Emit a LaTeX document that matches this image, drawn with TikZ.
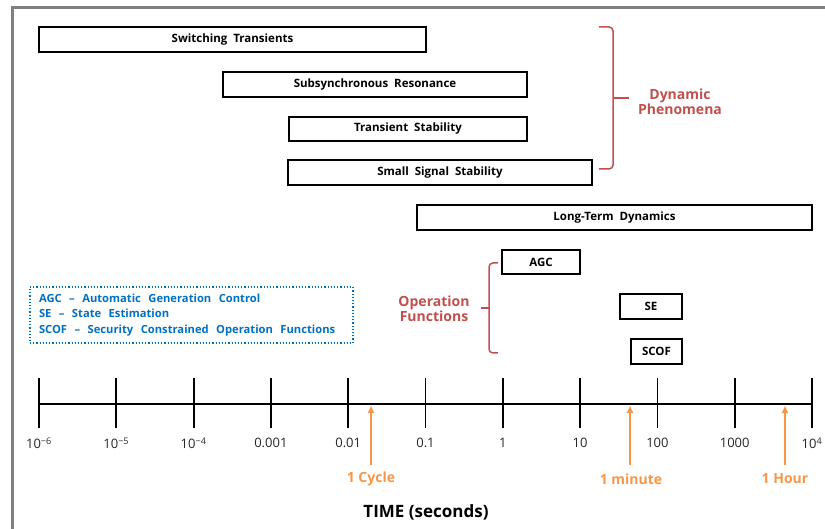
\documentclass[tikz,border=0pt]{standalone}
\usepackage{fontspec}
\setmainfont{Open Sans}
\usetikzlibrary{arrows.meta}
\definecolor{framegray}{RGB}{128,128,128}
\definecolor{dynred}{RGB}{192,80,77}
\definecolor{tickorange}{RGB}{247,150,70}
\definecolor{legblue}{RGB}{0,112,192}
\tikzset{
  bar/.style={draw=black, line width=1.5pt, fill=white, inner sep=0pt,
    font=\fontsize{11.5}{13}\selectfont\bfseries},
  bracepath/.style={draw=dynred, line width=1.5pt, rounded corners=4pt},
  redlabel/.style={text=dynred, font=\fontsize{14}{17}\selectfont\bfseries, align=center},
  ticklabel/.style={font=\fontsize{13}{15}\selectfont, text=black!85},
  orangelabel/.style={text=tickorange, font=\fontsize{14}{16}\selectfont\bfseries},
  markarrow/.style={draw=tickorange, line width=1.8pt, -{Triangle[length=7pt,width=6pt]}},
  axisline/.style={draw=black, line width=1.8pt},
}
\begin{document}
\begin{tikzpicture}[x=1pt,y=-1pt]
\useasboundingbox (0,0) rectangle (825,529);
% frame
\draw[framegray, line width=3pt] (12,529) -- (12,8) -- (825,8);

% bars
\node[bar, minimum width=387pt, minimum height=25pt] (sw) at (232.5,39.5) {Switching\ \ Transients};
\node[bar, minimum width=304pt, minimum height=25pt] (ssr) at (375,84.5) {Subsynchronous\ \ Resonance};
\node[bar, minimum width=238pt, minimum height=24pt] (ts) at (408,129) {Transient\ \ Stability};
\node[bar, minimum width=304pt, minimum height=25pt] (sss) at (440,172.5) {Small\ \ Signal\ \ Stability};
\node[bar, minimum width=395pt, minimum height=25pt] (ltd) at (614.5,217.5) {Long-Term\ \ Dynamics};
\node[bar, minimum width=78pt, minimum height=24pt] (agc) at (541,262) {AGC};
\node[bar, minimum width=62pt, minimum height=25pt] (se) at (651,306.5) {SE};
\node[bar, minimum width=51pt, minimum height=25pt] (scof) at (656.5,351.5) {SCOF};

% dynamic phenomena brace
\coordinate (dbt) at (599,27);
\coordinate (dbm) at (613,98);
\coordinate (dbtip) at (629,98);
\coordinate (dbb) at (599,169);
\draw[bracepath] (dbt) -| (dbm) |- (dbb);
\draw[bracepath] (dbm) -- (dbtip);
\node[redlabel] (dyn) at (680,101.5) {Dynamic\\[-2pt]Phenomena};

% operation functions brace
\coordinate (obt) at (498,263);
\coordinate (obm) at (489,308);
\coordinate (obtip) at (481,308);
\coordinate (obb) at (498,353);
\draw[bracepath] (obt) -| (obm) |- (obb);
\draw[bracepath] (obm) -- (obtip);
\node[redlabel] (opf) at (434,309) {Operation\\[-2pt]Functions};

% legend
\node[draw=legblue, dotted, line width=1.2pt, minimum width=323pt, minimum height=56pt,
  text width=305pt, align=left, inner xsep=9pt, text=legblue,
  font=\fontsize{11.2}{15.5}\selectfont\bfseries] (leg) at (191.5,315)
  {AGC\ \ –\ \ Automatic\ \ Generation\ \ Control\\
   SE\ \ –\ \ State\ \ Estimation\\
   SCOF\ \ –\ \ Security\ \ Constrained\ \ Operation\ \ Functions};

% axis
\coordinate (a0) at (39,404);
\coordinate (a10) at (812,404);
\draw[axisline] (a0) -- (a10);
\foreach \k/\lab in {0/{10\textsuperscript{−6}},1/{10\textsuperscript{−5}},2/{10\textsuperscript{−4}},3/{0.001},4/{0.01},5/{0.1},6/{1},7/{10},8/{100},9/{1000},10/{10\textsuperscript{4}}}{
  \coordinate (t\k) at ({39+77.3*\k},404);
  \draw[axisline] ([yshift=-24pt]t\k) -- ([yshift=26pt]t\k);
  \node[ticklabel] (l\k) at ({39+77.3*\k},443) {\lab};
}

% time markers
\coordinate (cycA) at (371,406);
\coordinate (minA) at (630,406);
\coordinate (hrA) at (785,406);
\coordinate (cycS) at (371,465);
\coordinate (minS) at (630,465);
\coordinate (hrS) at (785,465);
\draw[markarrow] (cycS) -- (cycA);
\draw[markarrow] (minS) -- (minA);
\draw[markarrow] (hrS) -- (hrA);
\node[orangelabel] (cyc) at (371,479) {1\ Cycle};
\node[orangelabel] (min) at (631,479) {1\ minute};
\node[orangelabel] (hr) at (785,479) {1\ Hour};

\node[font=\fontsize{17}{20}\selectfont\bfseries] (time) at (426,512) {TIME (seconds)};
\end{tikzpicture}
\end{document}
